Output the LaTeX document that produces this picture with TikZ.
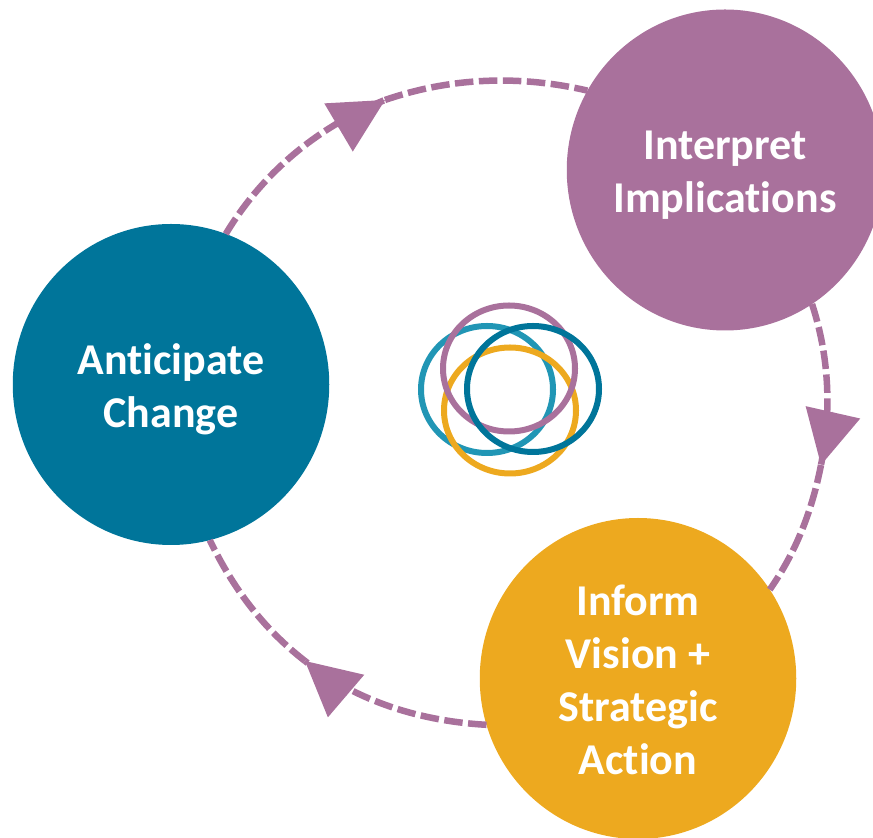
\documentclass[tikz,border=0pt]{standalone}
\usepackage{fontspec}
\setmainfont[Ligatures=NoCommon]{Carlito}
\usetikzlibrary{arrows.meta,shapes.geometric}
\definecolor{plum}{HTML}{A9719C}
\definecolor{deepteal}{HTML}{00759A}
\definecolor{lightteal}{HTML}{2196B5}
\definecolor{amber}{HTML}{EDA91F}
\tikzset{
	stage/.style={ellipse,minimum width=316.5pt,minimum height=321pt,inner sep=0pt,outer sep=0pt,text=white,align=center,font=\fontsize{44}{53}\selectfont\bfseries},
	ringline/.style={draw=plum,line width=6.5pt,dash pattern=on 18.5pt off 5.5pt,looseness=0.88},
	ringtip/.style={draw=plum,line width=1pt,-{Triangle[length=54pt,width=56pt,line width=0pt,fill=plum]}},
	logoring/.style={line width=6pt}
}

\begin{document}
\begin{tikzpicture}[x=1pt,y=1pt]
	\useasboundingbox (0,0) rectangle (873,838);

	\node (change) at (171,453.5) [stage,fill=deepteal] {\rule{0pt}{40pt}Anticipate\\Change};
	\node (implications) at (725,668) [stage,fill=plum] {\rule{0pt}{39pt}Interpret\\Implications};
	\node (action) at (638,159.5) [stage,fill=amber] {\rule{0pt}{33pt}Inform\\Vision +\\Strategic\\Action};

	\coordinate (tipA) at (385,738);
	\coordinate (backA) at (338.5,710.5);
	\coordinate (tipB) at (821,373);
	\coordinate (backB) at (833,426);
	\coordinate (tipC) at (305,177);
	\coordinate (backC) at (346,142);

	\draw[ringline] (change.70) to[out=59,in=201.6] (tipA);
	\draw[ringline] (tipA) to[out=19,in=167] (implications.150);
	\draw[ringline] (implications.-57) to[out=-72,in=78.9] (tipB);
	\draw[ringline] (tipB) to[out=-101.1,in=55.1] (action.34.6);
	\draw[ringline] (action.197.6) to[out=176.8,in=322.2] (tipC);
	\draw[ringline] (tipC) to[out=142.2,in=295.7] (change.-76.4);

	\draw[ringtip] (backA) -- (tipA);
	\draw[ringtip] (backB) -- (tipB);
	\draw[ringtip] (backC) -- (tipC);

	\draw[logoring,lightteal] (487,448.5) ellipse (66 and 63.5);
	\draw[logoring,amber] (510,427.5) ellipse (66 and 63);
	\draw[logoring,plum] (509,469.5) ellipse (66 and 63);
	\draw[logoring,deepteal] (533,449) ellipse (66 and 63);
\end{tikzpicture}
\end{document}
